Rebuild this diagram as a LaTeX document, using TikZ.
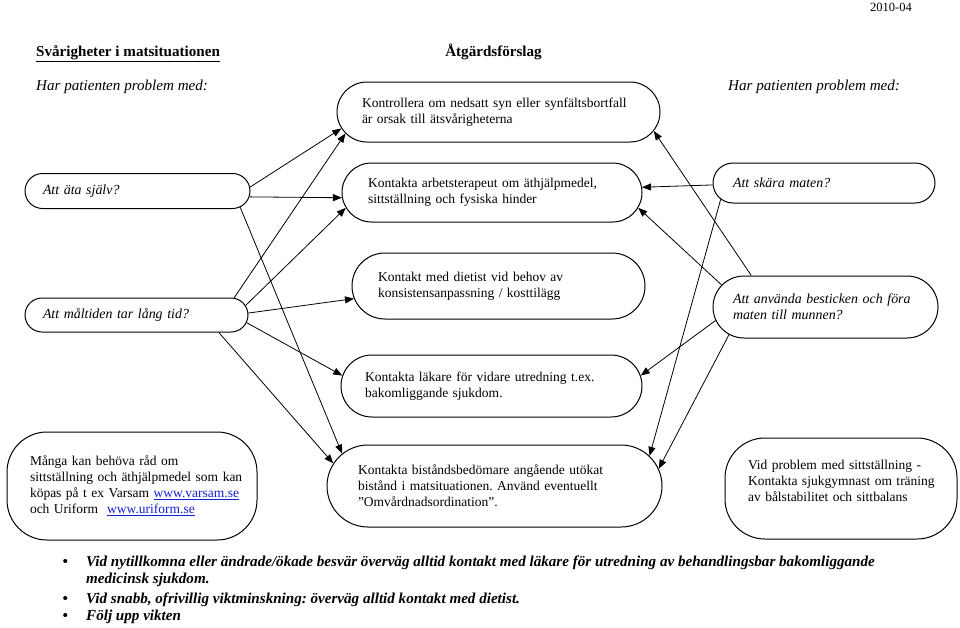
\documentclass[tikz,border=0pt]{standalone}
\usepackage{fontspec}
\setmainfont{Liberation Serif}
\usetikzlibrary{arrows.meta,shapes.misc,positioning}
\frenchspacing

\definecolor{linkblue}{RGB}{20,30,210}
\newcommand{\weblink}[1]{\textcolor{linkblue}{\underline{#1}}}

\tikzset{
  basetxt/.style={font=\fontsize{15.1}{17}\selectfont, inner sep=0pt},
  act/.style={draw, line width=1pt, rounded rectangle, inner xsep=-12pt, inner ysep=0pt,
              align=left, font=\fontsize{13.5}{16}\selectfont},
  prob/.style={act, font=\fontsize{13.9}{16}\selectfont\itshape},
  infobox/.style={draw, line width=1pt, rectangle, rounded corners=40pt, inner xsep=20pt,
              inner ysep=0pt, align=left, font=\fontsize{13.5}{16}\selectfont},
  arr/.style={-{Triangle[length=9pt,width=7pt]}, line width=0.8pt}
}

\begin{document}
\begin{tikzpicture}[x=1pt,y=-1pt]
\useasboundingbox (0,0) rectangle (960,627);

% headings
\node[basetxt, font=\fontsize{12.5}{14}\selectfont, anchor=base west] (date) at (870,11) {2010-04};
\node[basetxt, font=\fontsize{15.1}{17}\selectfont\bfseries, anchor=base west] (title) at (36,56) {\underline{Svårigheter i matsituationen}};
\node[basetxt, font=\fontsize{15.1}{17}\selectfont\bfseries, anchor=base] (atgard) at (493.5,56) {Åtgärdsförslag};
\node[basetxt, font=\fontsize{15.1}{17}\selectfont\itshape, anchor=base west] (harL) at (36,90) {Har patienten problem med:};
\node[basetxt, font=\fontsize{15.1}{17}\selectfont\itshape, anchor=base west] (harR) at (728,90) {Har patienten problem med:};

% problems (minimum width = drawn width - 24pt)
\node[prob, minimum width=201pt, minimum height=35pt, text width=189pt] (ata) at (137.5,191) {Att äta själv?};
\node[prob, minimum width=199pt, minimum height=34pt, text width=187pt] (maltid) at (136.5,315) {Att måltiden tar lång tid?};
\node[prob, minimum width=198pt, minimum height=40pt, text width=182pt] (skara) at (824,183) {Att skära maten?};
\node[prob, minimum width=201pt, minimum height=62pt, text width=185pt] (bestick) at (825.5,307)
  {Att använda besticken och föra\\ maten till munnen?};

% actions
\node[act, minimum width=299pt, minimum height=60pt, text width=273pt] (kontr) at (498.5,112)
  {Kontrollera om nedsatt syn eller synfältsbortfall\\ är orsak till ätsvårigheterna};
\node[act, minimum width=276pt, minimum height=59pt, text width=248pt] (arbter) at (492,192.5)
  {Kontakta arbetsterapeut om äthjälpmedel,\\ sittställning och fysiska hinder};
\node[act, minimum width=269pt, minimum height=66pt, text width=241pt] (dietist) at (498.5,286)
  {Kontakt med dietist vid behov av\\ konsistensanpassning / kosttilägg};
\node[act, minimum width=277pt, minimum height=62pt, text width=253pt] (lakare) at (491.5,386)
  {Kontakta läkare för vidare utredning t.ex.\\ bakomliggande sjukdom.};
\node[act, minimum width=311pt, minimum height=82pt, text width=273pt] (bistand) at (494.5,486)
  {Kontakta biståndsbedömare angående utökat\\ bistånd i matsituationen. Använd eventuellt\\ ”Omvårdnadsordination”.};

% info boxes
\node[infobox, minimum width=250pt, minimum height=108pt, text width=204pt, inner xsep=23pt] (manga) at (132,486)
  {Många kan behöva råd om\\ \mbox{sittställning och äthjälpmedel som kan}\\ \mbox{köpas på t ex Varsam \weblink{www.varsam.se}}\\ och Uriform\hspace{9pt}\weblink{www.uriform.se}};
\node[infobox, minimum width=232pt, minimum height=101pt, text width=186pt, inner xsep=23pt] (sjukgym) at (841,488.5)
  {Vid problem med sittställning -\\ \mbox{Kontakta sjukgymnast om träning}\\ av bålstabilitet och sittbalans\\ \mbox{}};

% connectors
\path[arr] (ata.2.5) edge (kontr.186.8)
           (ata.-3.6) edge (arbter.182)
           (ata.-9.5) edge (bistand.168.7)
           (maltid.10) edge (kontr.188)
           (maltid.5.5) edge (arbter.186.3)
           (maltid.1) edge (dietist.185.1)
           (maltid.-4) edge (lakare.176.6)
           (maltid.-12) edge (bistand.172.1)
           (skara.181.5) edge (arbter.2)
           (skara.189.6) edge (bistand.11.5)
           (bestick.157.8) edge (kontr.-7.6)
           (bestick.168.7) edge (arbter.-6.9)
           (bestick.187.6) edge (lakare.4.3)
           (bestick.196.4) edge (bistand.6.5);

% notes
\node[basetxt, font=\fontsize{15.1}{17}\selectfont\bfseries\itshape, anchor=base west] (notes) at (62.5,566)
  {\begin{tabular}[t]{@{}p{23.5pt}@{}l@{}}
   \textbullet & Vid nytillkomna eller ändrade/ökade besvär överväg alltid kontakt med läkare för utredning av behandlingsbar bakomliggande\\
               & medicinsk sjukdom.\\[3pt]
   \textbullet & Vid snabb, ofrivillig viktminskning: överväg alltid kontakt med dietist.\\
   \textbullet & Följ upp vikten
   \end{tabular}};
\end{tikzpicture}
\end{document}
